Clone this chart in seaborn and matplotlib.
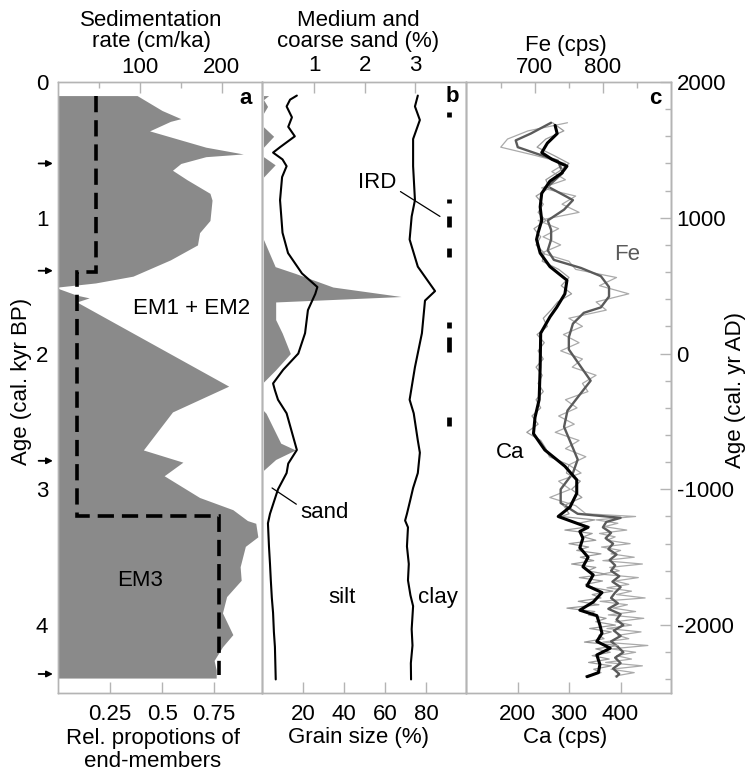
import matplotlib
matplotlib.use("Agg")
import matplotlib.pyplot as plt
from matplotlib.ticker import MultipleLocator
import seaborn as sns

sns.set_style("white")
plt.rcParams['font.family'] = ['Liberation Sans', 'DejaVu Sans']
plt.rcParams['axes.unicode_minus'] = False
plt.rcParams['text.color'] = 'black'
plt.rcParams['axes.labelcolor'] = 'black'

# painel a: proporcao do EM3 (area cinza) e taxa de sedimentacao (tracejado)
idadeEM = [0.10, 0.21, 0.27, 0.29, 0.36, 0.48, 0.53, 0.55, 0.60, 0.65, 0.72, 0.82, 0.87,
           1.02, 1.11, 1.20, 1.31, 1.43, 1.48, 1.51, 1.52, 1.57, 1.59, 1.62, 2.24, 2.43,
           2.71, 2.80, 2.90, 3.06, 3.15, 3.23, 3.25, 3.35, 3.42, 3.57, 3.67, 3.79, 3.91,
           4.07, 4.16, 4.26, 4.33, 4.39]
propEM3 = [0.38, 0.50, 0.59, 0.54, 0.44, 0.71, 0.89, 0.71, 0.59, 0.55, 0.62, 0.73, 0.74,
           0.73, 0.68, 0.67, 0.54, 0.36, 0.18, 0.0, 0.0, 0.09, 0.15, 0.09, 0.82, 0.55,
           0.41, 0.60, 0.51, 0.68, 0.84, 0.91, 0.95, 0.96, 0.90, 0.875, 0.88, 0.81, 0.79,
           0.84, 0.79, 0.75, 0.76, 0.76]
limitesTaxa = [0.10, 1.40, 3.20, 4.37]
taxaSedimentacao = [46, 23, 196]
idadeSetas = [0.60, 1.39, 2.79, 4.36]

# painel b: granulometria
idadeAreiaGrossa = [0.10, 0.13, 0.18, 0.23, 0.33, 0.40, 0.48, 0.55, 0.61, 0.70, 1.16, 1.36,
                    1.41, 1.51, 1.58, 1.62, 1.75, 1.85, 2.00, 2.12, 2.21, 2.42, 2.44, 2.66,
                    2.71, 2.78, 2.86, 4.39]
areiaMediaGrossa = [0.10, 0.0, 0.08, 0.0, 0.0, 0.20, 0.0, 0.0, 0.23, 0.0, 0.0, 0.23,
                    0.63, 1.37, 2.72, 0.24, 0.24, 0.37, 0.53, 0.24, 0.0, 0.0, 0.05, 0.34,
                    0.63, 0.24, 0.0, 0.0]
idadeAreia = [0.10, 0.13, 0.18, 0.26, 0.33, 0.40, 0.48, 0.52, 0.57, 0.62, 0.70, 0.87, 1.11,
              1.26, 1.41, 1.51, 1.56, 1.68, 1.85, 2.00, 2.12, 2.22, 2.27, 2.34, 2.44, 2.71,
              2.81, 2.88, 3.00, 3.18, 3.25, 3.42, 3.55, 3.67, 3.80, 3.91, 4.05, 4.16, 4.40]
areia = [17, 13.7, 12, 14.6, 12.8, 16, 8.8, 5.4, 10, 12, 9.8, 8.8, 10,
         12.7, 19.5, 27, 26, 22.4, 21, 17.7, 10.3, 5.4, 6.3, 7.8, 12, 17,
         12.8, 12, 7.8, 3.9, 2.9, 3.4, 3.9, 4.3, 4.8, 5.4, 5.8, 6.3, 6.7]
idadeArgila = [0.10, 0.18, 0.28, 0.42, 0.62, 0.87, 0.99, 1.16, 1.36, 1.51, 1.54, 1.61, 1.85,
               2.10, 2.34, 2.44, 2.64, 2.73, 2.88, 2.99, 3.08, 3.18, 3.23, 3.28, 3.42, 3.55,
               3.67, 3.78, 3.86, 4.03, 4.15, 4.28, 4.40]
areiaSilte = [76, 74.6, 77, 73.7, 73.7, 74.6, 73, 72, 76, 83, 84.4, 79.5, 78,
              74.6, 72, 74, 76, 77, 76, 73.7, 72.3, 70.7, 69.8, 71.2, 70.7, 71.6,
              71.2, 72.4, 73.7, 73, 73.4, 72.6, 72.7]
irdTopo = [0.22, 0.86, 0.99, 1.22, 1.77, 1.88, 2.47]
irdBase = [0.26, 0.89, 1.07, 1.29, 1.81, 1.99, 2.53]

# painel c: XRF (Ca e Fe), curvas suavizadas e dados brutos
idadeCaSuave = [0.32, 0.38, 0.45, 0.52, 0.57, 0.62, 0.67, 0.73, 0.82, 0.92, 1.02, 1.11, 1.16,
                1.26, 1.36, 1.46, 1.56, 1.66, 1.73, 1.85, 2.10, 2.34, 2.47, 2.59, 2.71, 2.83,
                2.93, 3.03, 3.13, 3.20, 3.24, 3.28, 3.31, 3.36, 3.43, 3.50, 3.57, 3.63, 3.71,
                3.76, 3.83, 3.89, 3.93, 4.00, 4.06, 4.12, 4.17, 4.22, 4.29, 4.35, 4.38]
caSuave = [273, 277, 258, 247, 267, 296, 286, 263, 247, 244, 247, 240, 237,
           244, 263, 296, 292, 276, 263, 245, 244, 242, 234, 231, 253, 292,
           315, 315, 302, 279, 308, 337, 321, 327, 321, 337, 327, 347, 335,
           364, 347, 321, 354, 360, 364, 354, 380, 354, 360, 357, 335]
idadeFeSuave = [0.30, 0.38, 0.43, 0.48, 0.53, 0.58, 0.67, 0.77, 0.87, 0.94, 1.02, 1.09, 1.16,
                1.24, 1.31, 1.37, 1.43, 1.51, 1.58, 1.66, 1.70, 1.78, 1.88, 1.97, 2.10, 2.20,
                2.29, 2.42, 2.54, 2.66, 2.78, 2.88, 3.00, 3.10, 3.18, 3.21, 3.24, 3.28, 3.32,
                3.36, 3.40, 3.44, 3.48, 3.52, 3.56, 3.60, 3.64, 3.68, 3.72, 3.76, 3.80, 3.84,
                3.88, 3.92, 3.96, 4.00, 4.04, 4.08, 4.12, 4.16, 4.20, 4.24, 4.28, 4.32, 4.36,
                4.38]
feSuave = [724, 694, 672, 675, 704, 734, 741, 719, 756, 743, 719, 724, 724,
           719, 728, 768, 797, 809, 809, 797, 772, 756, 750, 750, 768, 782,
           768, 748, 743, 753, 763, 756, 738, 738, 763, 826, 805, 800, 812,
           804, 815, 808, 820, 810, 818, 812, 824, 814, 826, 818, 812, 822,
           808, 826, 820, 830, 816, 826, 812, 822, 830, 818, 826, 815, 824,
           820]
idadeXrf = [0.30, 0.36, 0.42, 0.48, 0.54, 0.60, 0.66, 0.72, 0.78, 0.84, 0.90, 0.96, 1.02,
            1.08, 1.14, 1.20, 1.26, 1.32, 1.38, 1.44, 1.50, 1.56, 1.62, 1.68, 1.74, 1.80,
            1.86, 1.92, 1.98, 2.04, 2.10, 2.16, 2.22, 2.28, 2.34, 2.40, 2.46, 2.52, 2.58,
            2.64, 2.70, 2.76, 2.82, 2.88, 2.94, 3.00, 3.06, 3.12, 3.18,
            3.200, 3.225, 3.250, 3.275, 3.300, 3.325, 3.350, 3.375, 3.400, 3.425, 3.450,
            3.475, 3.500, 3.525, 3.550, 3.575, 3.600, 3.625, 3.650, 3.675, 3.700, 3.725,
            3.750, 3.775, 3.800, 3.825, 3.850, 3.875, 3.900, 3.925, 3.950, 3.975, 4.000,
            4.025, 4.050, 4.075, 4.100, 4.125, 4.150, 4.175, 4.200, 4.225, 4.250, 4.275,
            4.300, 4.325, 4.350, 4.375]
caBruto = [268, 290, 255, 238, 270, 300, 280, 255, 262, 236, 250, 240, 255,
           232, 245, 236, 252, 248, 280, 300, 285, 305, 278, 265, 250, 258,
           238, 252, 240, 250, 236, 248, 240, 250, 236, 245, 228, 240, 218,
           245, 255, 262, 300, 295, 322, 305, 325, 290, 300,
           285, 350, 318, 340, 292, 345, 328, 352, 300, 338, 315,
           362, 322, 348, 305, 352, 336, 372, 320, 365, 332, 348,
           385, 345, 362, 318, 358, 296, 350, 338, 372, 352, 390,
           340, 382, 358, 368, 330, 395, 352, 380, 345, 378, 338,
           382, 348, 362, 332]
feBruto = [748, 690, 660, 650, 700, 745, 725, 745, 710, 760, 740, 765, 705,
           735, 712, 738, 710, 750, 760, 820, 795, 838, 790, 805, 750, 770,
           742, 765, 738, 770, 755, 790, 770, 778, 745, 762, 735, 758, 730,
           765, 745, 775, 750, 768, 735, 752, 722, 760, 775,
           848, 790, 822, 802, 835, 795, 818, 806, 840, 798, 826,
           812, 846, 800, 858, 810, 824, 798, 852, 818, 838, 806,
           842, 820, 862, 796, 836, 815, 848, 808, 860, 818, 842,
           806, 856, 822, 838, 800, 866, 812, 848, 820, 842, 804,
           858, 812, 846, 818]

CORBORDA = '#b4b4b4'
CORAREA = '#8a8a8a'
TAMFONTE = 16
LARGURA, ALTURA = 749, 776


def caixa(esquerda, direita, topo=82, base=693):
    """Converte uma caixa em pixels para fracoes da figura"""
    return [esquerda / LARGURA, 1 - base / ALTURA,
            (direita - esquerda) / LARGURA, (base - topo) / ALTURA]


def estilizarEixo(ax):
    """Bordas cinza claro e ticks para dentro"""
    for spine in ax.spines.values():
        spine.set_color(CORBORDA)
        spine.set_linewidth(1.0)
    ax.tick_params(which='both', direction='in', color=CORBORDA, width=1.0,
                   labelsize=TAMFONTE, labelcolor='k')
    ax.tick_params(which='major', length=8)
    ax.tick_params(which='minor', length=4.5)


def textoFigura(fig, x, y, texto, **kwargs):
    """Escreve texto numa posicao em pixels da figura"""
    fig.text(x / LARGURA, 1 - y / ALTURA, texto, fontsize=TAMFONTE,
             ha='center', va='center', **kwargs)


def painelA(fig):
    ax = fig.add_axes(caixa(58, 262))
    axTopo = ax.twiny()
    ax.fill_betweenx(idadeEM, 0, propEM3, color=CORAREA, lw=0)
    axTopo.stairs(taxaSedimentacao, limitesTaxa, orientation='horizontal', baseline=None,
                  color='k', lw=2.6, linestyle=(0, (4.5, 2.2)))

    ax.set_ylim(4.5, 0)
    ax.set_xlim(0, 0.98)
    axTopo.set_xlim(0, 249)
    ax.set_xticks([0.25, 0.5, 0.75], labels=['0.25', '0.5', '0.75'])
    ax.set_yticks([0, 1, 2, 3, 4])
    ax.yaxis.set_minor_locator(MultipleLocator(0.2))
    axTopo.set_xticks([100, 200])
    axTopo.set_xticks([50, 150], minor=True)
    for eixo in (ax, axTopo):
        estilizarEixo(eixo)
    ax.tick_params(axis='x', pad=8)
    ax.tick_params(axis='y', pad=7, right=False)
    axTopo.tick_params(axis='x', pad=3)

    for idade in idadeSetas:
        ax.annotate('', xy=(-0.025, idade), xytext=(-0.095, idade),
                    xycoords=ax.get_yaxis_transform(), annotation_clip=False,
                    arrowprops=dict(arrowstyle='-|>', color='k', lw=1.3, mutation_scale=9,
                                    shrinkA=0, shrinkB=0))

    ax.text(0.90, 0.12, 'a', fontsize=TAMFONTE, weight='bold', ha='center', va='center')
    ax.text(0.64, 1.67, 'EM1 + EM2', fontsize=TAMFONTE, ha='center', va='center')
    ax.text(0.395, 3.67, 'EM3', fontsize=TAMFONTE, ha='center', va='center')
    return ax


def painelB(fig, axA):
    ax = fig.add_axes(caixa(262, 466), sharey=axA)
    axTopo = ax.twiny()
    ax.set_zorder(axTopo.get_zorder() + 1)
    ax.patch.set_visible(False)

    axTopo.fill_betweenx(idadeAreiaGrossa, 0, areiaMediaGrossa, color=CORAREA, lw=0)
    sns.lineplot(x=areia, y=idadeAreia, orient='y', sort=False, estimator=None,
                 color='k', lw=1.5, ax=ax)
    sns.lineplot(x=areiaSilte, y=idadeArgila, orient='y', sort=False, estimator=None,
                 color='k', lw=1.5, ax=ax)
    ax.vlines([91] * len(irdTopo), irdTopo, irdBase, colors='k', lw=3.4)

    ax.set_xlim(0, 99.5)
    axTopo.set_xlim(-0.03, 4.0)
    ax.set_xticks([20, 40, 60, 80])
    axTopo.set_xticks([1, 2, 3])
    for eixo in (ax, axTopo):
        estilizarEixo(eixo)
    ax.tick_params(axis='x', pad=8)
    ax.tick_params(axis='y', which='both', left=False, right=False, labelleft=False)
    axTopo.tick_params(axis='x', pad=4)
    ax.set_xlabel('')
    ax.set_ylabel('')

    ax.annotate('IRD', xy=(86.8, 0.99), xytext=(56, 0.74), fontsize=TAMFONTE,
                ha='center', va='center',
                arrowprops=dict(arrowstyle='-', color='k', lw=0.9, relpos=(1.0, 0.2),
                                shrinkA=1, shrinkB=0))
    ax.annotate('sand', xy=(4.9, 2.99), xytext=(30.7, 3.17), fontsize=TAMFONTE,
                ha='center', va='center',
                arrowprops=dict(arrowstyle='-', color='k', lw=0.9, relpos=(0.0, 0.75),
                                shrinkA=1, shrinkB=0))
    ax.text(39, 3.8, 'silt', fontsize=TAMFONTE, ha='center', va='center')
    ax.text(86, 3.8, 'clay', fontsize=TAMFONTE, ha='center', va='center')
    ax.text(92.7, 0.11, 'b', fontsize=TAMFONTE, weight='bold', ha='center', va='center')
    return ax


def painelC(fig, axA):
    ax = fig.add_axes(caixa(466, 671), sharey=axA)
    axTopo = ax.twiny()
    ax.set_zorder(axTopo.get_zorder() + 1)
    ax.patch.set_visible(False)

    sns.lineplot(x=caBruto, y=idadeXrf, orient='y', sort=False, estimator=None,
                 color='#9a9a9a', lw=0.9, ax=ax)
    sns.lineplot(x=feBruto, y=idadeXrf, orient='y', sort=False, estimator=None,
                 color='#aaaaaa', lw=0.9, ax=axTopo)
    sns.lineplot(x=feSuave, y=idadeFeSuave, orient='y', sort=False, estimator=None,
                 color='#5a5a5a', lw=1.7, ax=axTopo)
    sns.lineplot(x=caSuave, y=idadeCaSuave, orient='y', sort=False, estimator=None,
                 color='k', lw=2.2, ax=ax)

    ax.set_xlim(100, 498)
    axTopo.set_xlim(599, 900)
    ax.set_xticks([200, 300, 400])
    axTopo.set_xticks([700, 800])
    axTopo.set_xticks([650, 750, 850], minor=True)
    for eixo in (ax, axTopo):
        estilizarEixo(eixo)
        eixo.set_xlabel('')
        eixo.set_ylabel('')
    ax.tick_params(axis='x', pad=8)
    ax.tick_params(axis='y', which='both', left=False, right=False, labelleft=False)
    axTopo.tick_params(axis='x', pad=3)

    eixoAD = ax.secondary_yaxis('right', functions=(lambda a: 2000 - 1000 * a,
                                                    lambda d: (2000 - d) / 1000))
    eixoAD.set_yticks([2000, 1000, 0, -1000, -2000])
    eixoAD.yaxis.set_minor_locator(MultipleLocator(200))
    estilizarEixo(eixoAD)
    eixoAD.tick_params(axis='y', pad=4)

    ax.text(467, 0.12, 'c', fontsize=TAMFONTE, weight='bold', ha='center', va='center')
    ax.text(412, 1.27, 'Fe', fontsize=TAMFONTE, color='#5a5a5a', ha='center', va='center')
    ax.text(185, 2.73, 'Ca', fontsize=TAMFONTE, ha='center', va='center')
    return ax


def main():
    fig = plt.figure(figsize=(LARGURA / 100, ALTURA / 100), dpi=100)
    axA = painelA(fig)
    painelB(fig, axA)
    painelC(fig, axA)
    axA.set_ylim(4.5, 0)

    textoFigura(fig, 151, 31, 'Sedimentation\nrate (cm/ka)', linespacing=1.0)
    textoFigura(fig, 358, 31, 'Medium and\ncoarse sand (%)', linespacing=1.0)
    textoFigura(fig, 566, 46, 'Fe (cps)')
    textoFigura(fig, 153, 750, 'Rel. propotions of\nend-members', linespacing=1.1)
    textoFigura(fig, 359, 738, 'Grain size (%)')
    textoFigura(fig, 565, 738, 'Ca (cps)')
    textoFigura(fig, 22, 381, 'Age (cal. kyr BP)', rotation=90)
    textoFigura(fig, 736, 390, 'Age (cal. yr AD)', rotation=90)

    fig.savefig('out.png', dpi=100)


if __name__ == "__main__":
    main()
